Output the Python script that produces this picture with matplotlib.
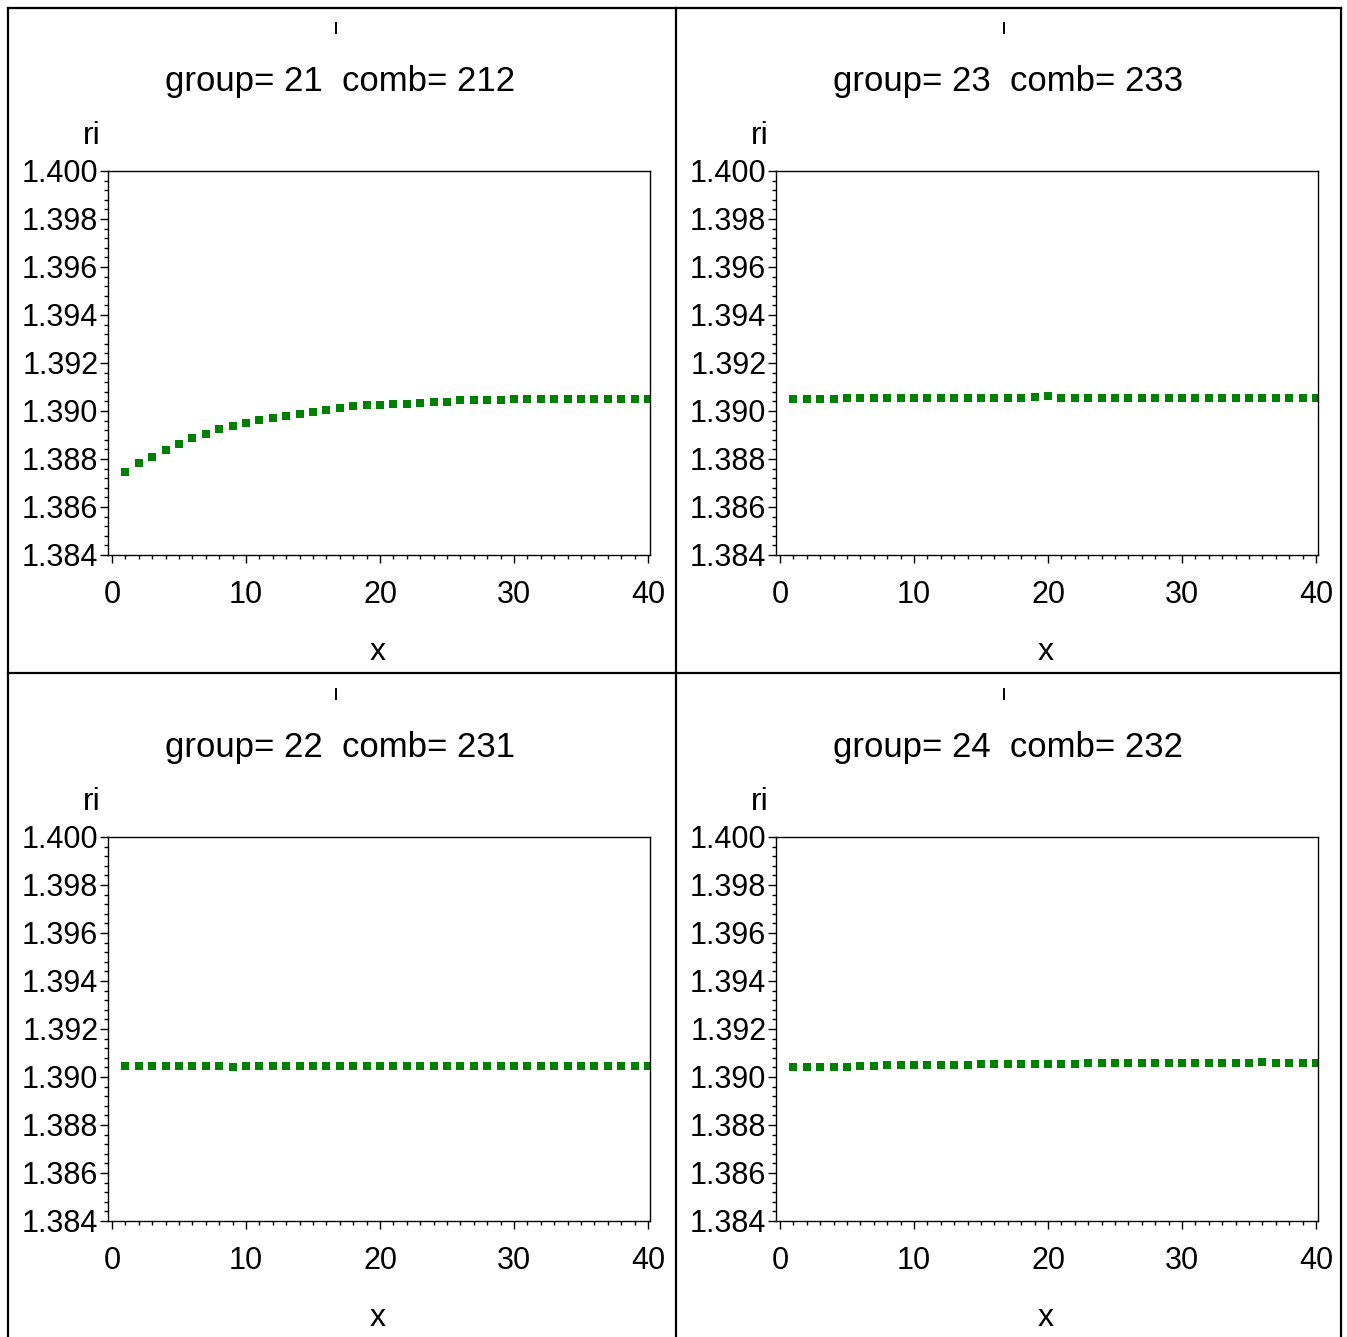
import matplotlib
matplotlib.use("Agg")
import matplotlib.pyplot as plt
from matplotlib.lines import Line2D
from matplotlib.ticker import MultipleLocator, FixedLocator

W, H = 1347, 1337
x_vals = list(range(1, 41))

ri_g21 = [1.38746, 1.38783, 1.38810, 1.38838, 1.38862, 1.38886, 1.38904, 1.38923, 1.38938, 1.38948,
          1.38961, 1.38972, 1.38980, 1.38987, 1.38996, 1.39003, 1.39011, 1.39020, 1.39023, 1.39025,
          1.39028, 1.39031, 1.39034, 1.39037, 1.39039, 1.39044, 1.39045, 1.39046, 1.39046, 1.39048,
          1.39048, 1.39049, 1.39049, 1.39051, 1.39051, 1.39051, 1.39051, 1.39051, 1.39051, 1.39051]
ri_g23 = [1.39048, 1.39050, 1.39050, 1.39052, 1.39054, 1.39053, 1.39054, 1.39054, 1.39055, 1.39054,
          1.39055, 1.39055, 1.39055, 1.39055, 1.39055, 1.39054, 1.39055, 1.39056, 1.39058, 1.39064,
          1.39056, 1.39055, 1.39055, 1.39055, 1.39055, 1.39055, 1.39054, 1.39056, 1.39055, 1.39055,
          1.39054, 1.39055, 1.39054, 1.39055, 1.39055, 1.39054, 1.39055, 1.39055, 1.39055, 1.39054]
ri_g22 = [1.39046, 1.39046, 1.39044, 1.39046, 1.39046, 1.39046, 1.39046, 1.39045, 1.39043, 1.39046,
          1.39044, 1.39046, 1.39046, 1.39046, 1.39046, 1.39046, 1.39046, 1.39046, 1.39046, 1.39046,
          1.39046, 1.39046, 1.39046, 1.39046, 1.39046, 1.39046, 1.39046, 1.39046, 1.39046, 1.39046,
          1.39046, 1.39045, 1.39046, 1.39046, 1.39046, 1.39045, 1.39046, 1.39046, 1.39046, 1.39046]
ri_g24 = [1.39042, 1.39042, 1.39043, 1.39043, 1.39043, 1.39045, 1.39047, 1.39048, 1.39048, 1.39050,
          1.39051, 1.39051, 1.39052, 1.39052, 1.39053, 1.39053, 1.39054, 1.39055, 1.39055, 1.39056,
          1.39056, 1.39056, 1.39057, 1.39057, 1.39057, 1.39058, 1.39058, 1.39058, 1.39058, 1.39059,
          1.39059, 1.39059, 1.39059, 1.39059, 1.39060, 1.39061, 1.39060, 1.39060, 1.39060, 1.39060]

titles = ["group= 21  comb= 212", "group= 23  comb= 233",
          "group= 22  comb= 231", "group= 24  comb= 232"]
series = [ri_g21, ri_g23, ri_g22, ri_g24]
y_ticks = [1.384, 1.386, 1.388, 1.390, 1.392, 1.394, 1.396, 1.398, 1.400]
y_ticklabels = ["1.384", "1.386", "1.388", "1.390", "1.392", "1.394", "1.396", "1.398", "1.400"]
x_ticks = [0, 10, 20, 30, 40]

plt.rcParams['font.family'] = ['Liberation Sans', 'DejaVu Sans']

fig = plt.figure(figsize=(W / 100, H / 100), dpi=100)

def fx(px):
    return px / W

def fy(py):
    return 1 - py / H

offsets = [(0, 0), (668, 0), (0, 666), (668, 666)]
green = "#008000"

for (dx, dy), title, vals in zip(offsets, titles, series):
    left, right, top, bottom = 108 + dx, 650 + dx, 171 + dy, 555 + dy
    ax = fig.add_axes([fx(left), fy(bottom), fx(right - left), (bottom - top) / H])
    ax.plot(x_vals, vals, linestyle='none', marker='s', markersize=5.2,
            color=green, markeredgewidth=0)
    ax.set_xlim(-0.3, 40.15)
    ax.set_ylim(1.384, 1.400)
    ax.xaxis.set_major_locator(FixedLocator(x_ticks))
    ax.xaxis.set_minor_locator(MultipleLocator(1))
    ax.yaxis.set_major_locator(FixedLocator(y_ticks))
    ax.set_yticklabels(y_ticklabels)
    ax.yaxis.set_minor_locator(MultipleLocator(0.0004))
    ax.tick_params(which='major', direction='out', length=6, width=1.0,
                   labelsize=22, colors='black')
    ax.tick_params(which='minor', direction='out', length=3, width=1.0)
    ax.tick_params(axis='x', which='major', pad=12)
    ax.tick_params(axis='y', which='major', pad=1)
    for sp in ax.spines.values():
        sp.set_linewidth(1.0)
        sp.set_color('black')

    cx = 340 + dx
    fig.add_artist(Line2D([fx(336 + dx), fx(336 + dx)], [fy(23 + dy), fy(33 + dy)],
                          color='black', linewidth=1.4, transform=fig.transFigure))
    fig.text(fx(cx), fy(82 + dy), title, ha='center', va='center', fontsize=25)
    fig.text(fx(92 + dx), fy(136 + dy), "ri", ha='center', va='center', fontsize=23)
    fig.text(fx(378 + dx), fy(652 + dy), "x", ha='center', va='center', fontsize=23)

lw = 1.6
for xs, ys in [([8, 8], [8, H + 5]), ([1341, 1341], [8, H + 5]), ([8, 1341], [8, 8]),
               ([676, 676], [8, H + 5]), ([8, 1341], [673, 673])]:
    fig.add_artist(Line2D([fx(xs[0]), fx(xs[1])], [fy(ys[0]), fy(ys[1])],
                          color='black', linewidth=lw, transform=fig.transFigure))

fig.savefig("out.png", dpi=100)
